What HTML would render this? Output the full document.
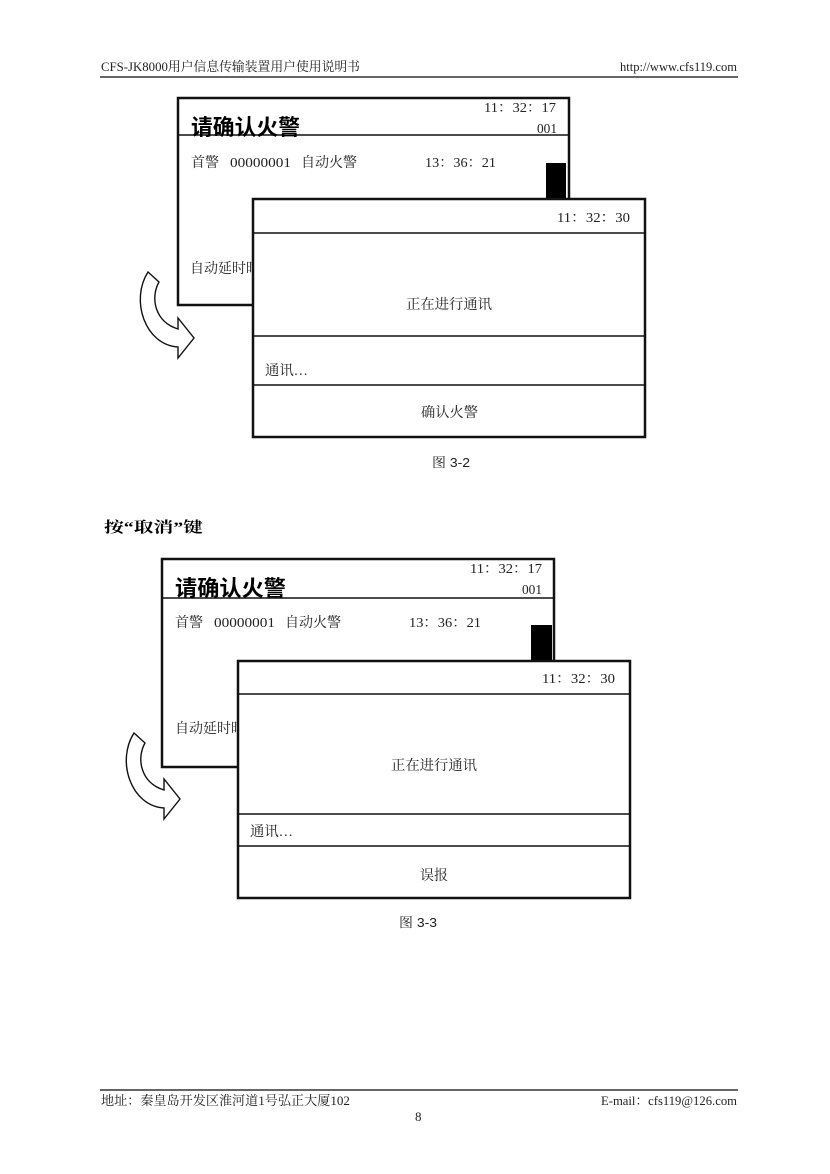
<!DOCTYPE html>
<html>
<head>
<meta charset="utf-8">
<style>
html,body{margin:0;padding:0;background:#fff;}
body{width:830px;height:1174px;overflow:hidden;}
svg{display:block;}
.s{font-family:"Liberation Serif","Noto Serif CJK SC",serif;fill:#222;}
.h{font-family:"Liberation Sans","Noto Sans CJK SC",sans-serif;font-weight:bold;fill:#000;}
.c{font-family:"Liberation Sans","Noto Serif CJK SC",sans-serif;fill:#222;}
</style>
</head>
<body>
<svg width="830" height="1174" viewBox="0 0 830 1174" xmlns="http://www.w3.org/2000/svg">
  <rect x="0" y="0" width="830" height="1174" fill="#fff"/>

  <!-- Header -->
  <text class="s" x="101" y="71" font-size="13" textLength="259" lengthAdjust="spacingAndGlyphs">CFS-JK8000用户信息传输装置用户使用说明书</text>
  <text class="s" x="620" y="71" font-size="13" textLength="117" lengthAdjust="spacingAndGlyphs">http://www.cfs119.com</text>
  <line x1="100" y1="77" x2="738" y2="77" stroke="#333" stroke-width="1.6"/>

  <!-- ===== Figure 3-2 ===== -->
  <!-- back screen -->
  <rect x="178" y="98" width="391" height="207" fill="#fff" stroke="#111" stroke-width="2.5"/>
  <line x1="178" y1="135" x2="569" y2="135" stroke="#111" stroke-width="1.5"/>
  <text class="s" x="484" y="112" font-size="14" textLength="72" lengthAdjust="spacingAndGlyphs">11：32：17</text>
  <text class="s" x="537" y="133" font-size="14" textLength="20" lengthAdjust="spacingAndGlyphs">001</text>
  <text class="h" x="191" y="135" font-size="22" textLength="109" lengthAdjust="spacingAndGlyphs">请确认火警</text>
  <text class="s" x="191" y="167" font-size="14" textLength="28" lengthAdjust="spacingAndGlyphs">首警</text>
  <text class="s" x="230" y="167" font-size="14" textLength="61" lengthAdjust="spacingAndGlyphs">00000001</text>
  <text class="s" x="301" y="167" font-size="14" textLength="56" lengthAdjust="spacingAndGlyphs">自动火警</text>
  <text class="s" x="425" y="167" font-size="14" textLength="71" lengthAdjust="spacingAndGlyphs">13：36：21</text>
  <text class="s" x="190" y="273" font-size="14" textLength="84" lengthAdjust="spacingAndGlyphs">自动延时时间</text>
  <rect x="546" y="163" width="20" height="36" fill="#000"/>

  <!-- curved arrow 1 -->
  <path d="M148,272 L159,282 C150,298 155,322 178,329 L178,318 L194,338 L178,358 L178,347 C145,345 130,300 148,272 Z" fill="#fff" stroke="#111" stroke-width="1.4" stroke-linejoin="miter"/>

  <!-- front screen -->
  <rect x="253" y="199" width="392" height="238" fill="#fff" stroke="#111" stroke-width="2.5"/>
  <line x1="253" y1="233" x2="645" y2="233" stroke="#111" stroke-width="1.5"/>
  <line x1="253" y1="336" x2="645" y2="336" stroke="#111" stroke-width="1.5"/>
  <line x1="253" y1="385" x2="645" y2="385" stroke="#111" stroke-width="1.5"/>
  <text class="s" x="557" y="222" font-size="14" textLength="73" lengthAdjust="spacingAndGlyphs">11：32：30</text>
  <text class="s" x="406" y="309" font-size="14" textLength="86" lengthAdjust="spacingAndGlyphs">正在进行通讯</text>
  <text class="s" x="265" y="375" font-size="14" textLength="43" lengthAdjust="spacingAndGlyphs">通讯…</text>
  <text class="s" x="421" y="417" font-size="14" textLength="57" lengthAdjust="spacingAndGlyphs">确认火警</text>

  <text class="c" x="432" y="467" font-size="13" textLength="38" lengthAdjust="spacingAndGlyphs">图 3-2</text>

  <!-- instruction -->
  <text class="s" x="104" y="532" font-size="15" font-weight="bold" style="fill:#000" textLength="99" lengthAdjust="spacingAndGlyphs">按“取消”键</text>

  <!-- ===== Figure 3-3 ===== -->
  <rect x="162" y="559" width="392" height="208" fill="#fff" stroke="#111" stroke-width="2.5"/>
  <line x1="162" y1="598" x2="554" y2="598" stroke="#111" stroke-width="1.5"/>
  <text class="s" x="470" y="573" font-size="14" textLength="72" lengthAdjust="spacingAndGlyphs">11：32：17</text>
  <text class="s" x="522" y="594" font-size="14" textLength="20" lengthAdjust="spacingAndGlyphs">001</text>
  <text class="h" x="175" y="596" font-size="22" textLength="111" lengthAdjust="spacingAndGlyphs">请确认火警</text>
  <text class="s" x="175" y="627" font-size="14" textLength="28" lengthAdjust="spacingAndGlyphs">首警</text>
  <text class="s" x="214" y="627" font-size="14" textLength="61" lengthAdjust="spacingAndGlyphs">00000001</text>
  <text class="s" x="285" y="627" font-size="14" textLength="56" lengthAdjust="spacingAndGlyphs">自动火警</text>
  <text class="s" x="409" y="627" font-size="14" textLength="72" lengthAdjust="spacingAndGlyphs">13：36：21</text>
  <text class="s" x="175" y="733" font-size="14" textLength="84" lengthAdjust="spacingAndGlyphs">自动延时时间</text>
  <rect x="531" y="625" width="21" height="36" fill="#000"/>

  <!-- curved arrow 2 -->
  <path transform="translate(-14,461)" d="M148,272 L159,282 C150,298 155,322 178,329 L178,318 L194,338 L178,358 L178,347 C145,345 130,300 148,272 Z" fill="#fff" stroke="#111" stroke-width="1.4" stroke-linejoin="miter"/>

  <rect x="238" y="661" width="392" height="237" fill="#fff" stroke="#111" stroke-width="2.5"/>
  <line x1="238" y1="694" x2="630" y2="694" stroke="#111" stroke-width="1.5"/>
  <line x1="238" y1="814" x2="630" y2="814" stroke="#111" stroke-width="1.5"/>
  <line x1="238" y1="846" x2="630" y2="846" stroke="#111" stroke-width="1.5"/>
  <text class="s" x="542" y="683" font-size="14" textLength="73" lengthAdjust="spacingAndGlyphs">11：32：30</text>
  <text class="s" x="391" y="770" font-size="14" textLength="86" lengthAdjust="spacingAndGlyphs">正在进行通讯</text>
  <text class="s" x="250" y="836" font-size="14" textLength="43" lengthAdjust="spacingAndGlyphs">通讯…</text>
  <text class="s" x="420" y="880" font-size="14" textLength="28" lengthAdjust="spacingAndGlyphs">误报</text>

  <text class="c" x="399" y="927" font-size="13" textLength="38" lengthAdjust="spacingAndGlyphs">图 3-3</text>

  <!-- Footer -->
  <line x1="100" y1="1090" x2="738" y2="1090" stroke="#333" stroke-width="1.6"/>
  <text class="s" x="101" y="1105" font-size="13" textLength="249" lengthAdjust="spacingAndGlyphs">地址：秦皇岛开发区淮河道1号弘正大厦102</text>
  <text class="s" x="601" y="1105" font-size="13" textLength="136" lengthAdjust="spacingAndGlyphs">E-mail：cfs119@126.com</text>
  <text class="s" x="415" y="1121" font-size="13">8</text>
</svg>
</body>
</html>
